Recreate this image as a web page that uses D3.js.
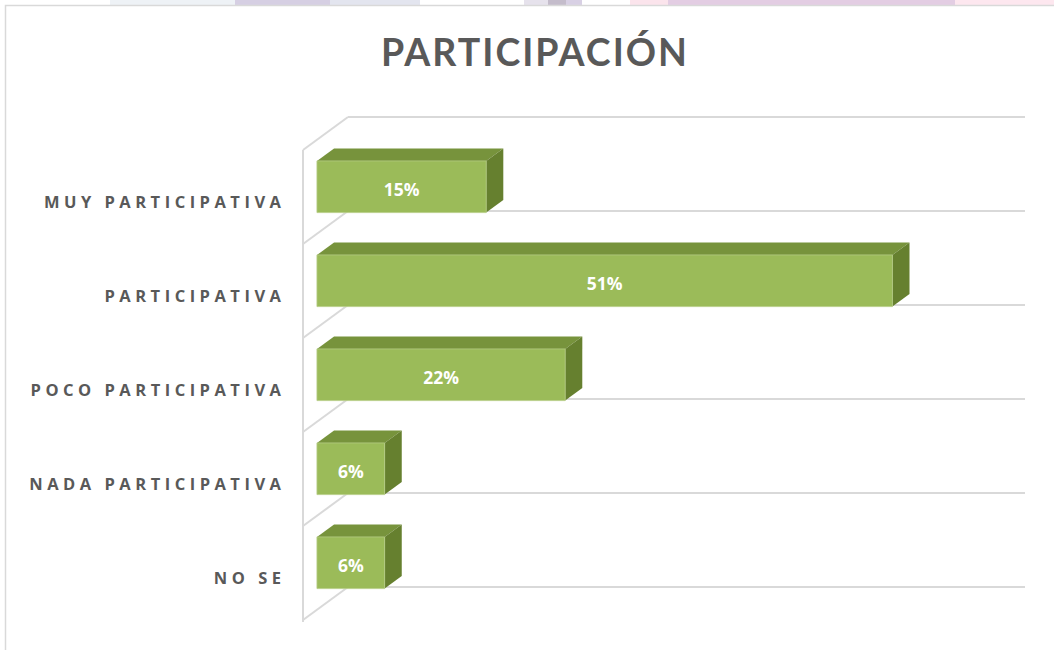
<!DOCTYPE html>
<html>
<head>
<meta charset="utf-8">
<script src="https://cdn.jsdelivr.net/npm/d3@7"></script>
<style>
  html, body { margin: 0; padding: 0; background: #ffffff; }
  svg { display: block; }
</style>
</head>
<body>
<svg id="chart" width="1054" height="650"></svg>
<script>
// Survey answers and their shares (percent)
const categories = ["MUY PARTICIPATIVA", "PARTICIPATIVA", "POCO PARTICIPATIVA", "NADA PARTICIPATIVA", "NO SE"];
const values = [15, 51, 22, 6, 6];
const valueLabels = ["15%", "51%", "22%", "6%", "6%"];
const title = "PARTICIPACIÓN";

const W = 1054, H = 650;
const svg = d3.select("#chart");

// Slide background slivers showing above the chart frame
const strips = [
  { x0: 110, x1: 235, c: "#eef2f6" },
  { x0: 235, x1: 330, c: "#d6cfe3" },
  { x0: 330, x1: 420, c: "#e3e5ef" },
  { x0: 524, x1: 560, c: "#e6e2ec" },
  { x0: 548, x1: 566, c: "#c4bccb" },
  { x0: 566, x1: 582, c: "#d8d0e4" },
  { x0: 630, x1: 668, c: "#fbe4ec" },
  { x0: 668, x1: 955, c: "#e3cde3" },
  { x0: 955, x1: 1054, c: "#fde7ef" }
];
svg.selectAll("rect.strip").data(strips).join("rect")
  .attr("class", "strip")
  .attr("x", d => d.x0).attr("y", 0)
  .attr("width", d => d.x1 - d.x0).attr("height", 5)
  .attr("fill", d => d.c);

// Chart frame
svg.append("path")
  .attr("d", `M5.5,${H} L5.5,5.5 L${W},5.5`)
  .attr("fill", "none")
  .attr("stroke", "#d9d9d9")
  .attr("stroke-width", 1.5);

// Title
svg.append("text")
  .attr("x", 535).attr("y", 66)
  .attr("text-anchor", "middle")
  .attr("font-family", "Lato, 'Open Sans', sans-serif")
  .attr("font-weight", 700)
  .attr("font-size", 37.5)
  .attr("letter-spacing", 2.0)
  .attr("fill", "#595959")
  .text(title);

// Oblique projection: value axis on the front plane, depth vector up and right
const depth = { dx: 45, dy: -33 };
const x = d3.scaleLinear().domain([0, 60]).range([303, 980]);
const y = d3.scaleBand().domain(categories).range([150, 620]).paddingInner(0.45).paddingOuter(0.225);
const proj = (px, py, f) => [px + depth.dx * f, py + depth.dy * f];

const grid = svg.append("g").attr("fill", "none").attr("stroke", "#d9d9d9").attr("stroke-width", 2);
const step = y.step();
const x0 = x.range()[0], x1 = x.range()[1];
const yTop = y.range()[0], yBot = y.range()[1];

// Left wall edge
grid.append("line").attr("x1", x0).attr("x2", x0).attr("y1", yTop).attr("y2", yBot + 2);
// Category boundaries: floor diagonal on the side wall + back-wall gridline
d3.range(categories.length + 1).forEach(i => {
  const yy = yTop + i * step;
  const [bx, by] = proj(x0, yy, 1);
  const [ex] = proj(x1, yy, 1);
  grid.append("line").attr("x1", x0).attr("y1", yy).attr("x2", bx).attr("y2", by);
  grid.append("line").attr("x1", bx).attr("y1", by).attr("x2", ex).attr("y2", by);
});

// 3D bars
const fFront = 0.31, fBack = 0.69;
const colors = { front: "#9bbb59", top: "#77933c", side: "#66802f", edge: "#b5cc84" };

const bars = svg.append("g");
categories.forEach((cat, i) => {
  const v = values[i];
  const yt = y(cat), yb = y(cat) + y.bandwidth();
  const xl = x(0), xr = x(v);
  const FTL = proj(xl, yt, fFront), FTR = proj(xr, yt, fFront);
  const FBL = proj(xl, yb, fFront), FBR = proj(xr, yb, fFront);
  const BTL = proj(xl, yt, fBack), BTR = proj(xr, yt, fBack), BBR = proj(xr, yb, fBack);
  const g = bars.append("g");
  g.append("polygon").attr("points", [FTL, FTR, BTR, BTL].join(" ")).attr("fill", colors.top);
  g.append("polygon").attr("points", [FTR, BTR, BBR, FBR].join(" ")).attr("fill", colors.side);
  g.append("polygon").attr("points", [FTL, FTR, FBR, FBL].join(" ")).attr("fill", colors.front)
    .attr("stroke", colors.edge).attr("stroke-width", 0.8);
  g.append("text")
    .attr("x", (FTL[0] + FTR[0]) / 2)
    .attr("y", (FTL[1] + FBL[1]) / 2 + 2)
    .attr("text-anchor", "middle")
    .attr("dominant-baseline", "central")
    .attr("font-family", "'Open Sans', sans-serif")
    .attr("font-weight", 700)
    .attr("font-size", 17.5)
    .attr("fill", "#ffffff")
    .text(valueLabels[i]);
});

// Category labels
const ls = 4.5;
svg.append("g").selectAll("text").data(categories).join("text")
  .attr("x", 281 + ls)
  .attr("y", d => y(d) + y.bandwidth() / 2 + 4)
  .attr("text-anchor", "end")
  .attr("dominant-baseline", "central")
  .attr("font-family", "'Open Sans', sans-serif")
  .attr("font-weight", 700)
  .attr("font-size", 16.5)
  .attr("letter-spacing", ls)
  .attr("fill", "#595959")
  .text(d => d);
</script>
</body>
</html>
